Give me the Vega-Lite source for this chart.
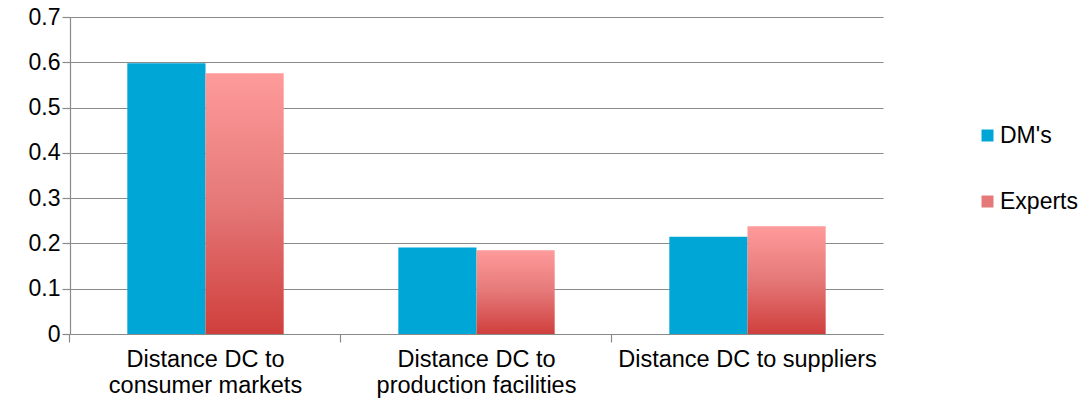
{
  "$schema": "https://vega.github.io/schema/vega-lite/v6.json",
  "autosize": "none",
  "width": 813,
  "height": 317,
  "padding": {"left": 70, "top": 17, "right": 196, "bottom": 68},
  "background": "white",
  "config": {
    "view": {"stroke": null},
    "font": "Liberation Sans",
    "axis": {"labelFont": "Liberation Sans", "labelColor": "#000000", "domainColor": "#8a8a8a", "tickColor": "#8a8a8a", "gridColor": "#8a8a8a", "domainWidth": 1.2, "tickWidth": 1.2, "gridWidth": 1.2}
  },
  "data": {
    "values": [
      {"factor": "Distance DC to consumer markets", "group": "DM's", "value": 0.598},
      {"factor": "Distance DC to consumer markets", "group": "Experts", "value": 0.576},
      {"factor": "Distance DC to production facilities", "group": "DM's", "value": 0.191},
      {"factor": "Distance DC to production facilities", "group": "Experts", "value": 0.185},
      {"factor": "Distance DC to suppliers", "group": "DM's", "value": 0.215},
      {"factor": "Distance DC to suppliers", "group": "Experts", "value": 0.238}
    ]
  },
  "encoding": {
    "x": {
      "field": "factor",
      "type": "nominal",
      "sort": null,
      "title": null,
      "scale": {"paddingInner": 0.423, "paddingOuter": 0.2115},
      "axis": {
        "bandPosition": -0.3666,
        "labelAngle": 0,
        "tickSize": 8,
        "labelPadding": 5,
        "labelFontSize": 23.5,
        "labelLineHeight": 26,
        "labelBaseline": "top",
        "labelLimit": 400,
        "labelExpr": "datum.label == 'Distance DC to consumer markets' ? ['Distance DC to', 'consumer markets'] : datum.label == 'Distance DC to production facilities' ? ['Distance DC to', 'production facilities'] : datum.label"
      }
    },
    "xOffset": {
      "field": "group",
      "type": "nominal",
      "sort": ["DM's", "Experts"],
      "scale": {"domain": ["DM's", "Experts"], "paddingInner": 0, "paddingOuter": 0}
    },
    "y": {
      "field": "value",
      "type": "quantitative",
      "title": null,
      "scale": {"domain": [0, 0.7], "nice": false},
      "axis": {
        "values": [0, 0.1, 0.2, 0.3, 0.4, 0.5, 0.6, 0.7],
        "format": "~g",
        "grid": true,
        "tickSize": 8,
        "labelPadding": 2,
        "labelFontSize": 23
      }
    },
    "color": {
      "field": "group",
      "type": "nominal",
      "title": null,
      "scale": {"domain": ["DM's", "Experts"], "range": ["#00A6D6", "#E57878"]},
      "legend": {
        "orient": "none",
        "legendX": 906,
        "legendY": 107,
        "symbolType": "square",
        "symbolSize": 144,
        "symbolStrokeWidth": 0,
        "labelFontSize": 23,
        "labelFont": "Liberation Sans",
        "labelColor": "#000000",
        "labelOffset": 1,
        "rowPadding": 42,
        "encode": {
          "symbols": {
            "update": {
              "fill": [
                {"test": "datum.value === 'Experts'", "value": {"gradient": "linear", "x1": 0, "y1": 0, "x2": 0, "y2": 1, "stops": [{"offset": 0, "color": "#FF9B9B"}, {"offset": 0.5, "color": "#E57878"}, {"offset": 1, "color": "#CF3F3C"}]}},
                {"value": "#00A6D6"}
              ]
            }
          }
        }
      }
    }
  },
  "layer": [
    {
      "transform": [{"filter": "datum.group === \"DM's\""}],
      "mark": {"type": "bar"}
    },
    {
      "transform": [{"filter": "datum.group === 'Experts'"}],
      "mark": {
        "type": "bar",
        "fill": {"gradient": "linear", "x1": 0, "y1": 0, "x2": 0, "y2": 1, "stops": [{"offset": 0, "color": "#FF9B9B"}, {"offset": 0.5, "color": "#E57878"}, {"offset": 1, "color": "#CF3F3C"}]}
      }
    }
  ]
}
